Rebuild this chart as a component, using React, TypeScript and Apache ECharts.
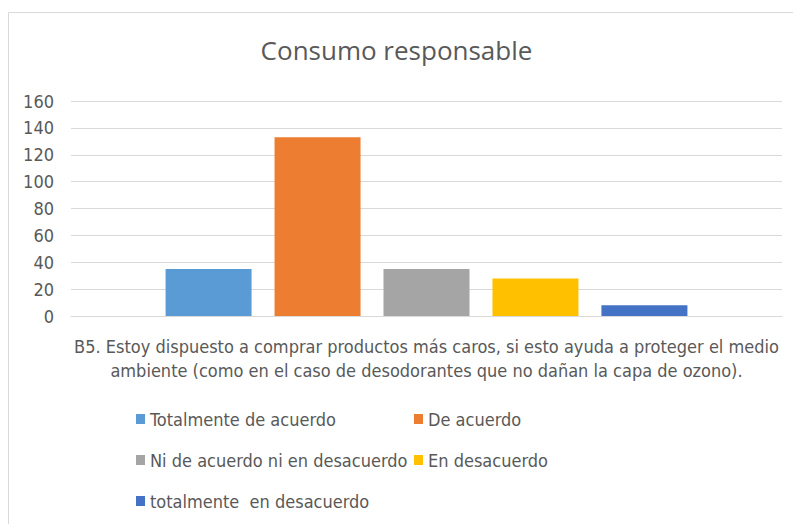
import React, { useEffect, useRef } from "react";
import * as echarts from "echarts";

const titleText = "Consumo responsable";
const categories = [
  "B5. Estoy dispuesto a comprar productos más caros, si esto ayuda a proteger el medio\nambiente (como en el caso de desodorantes que no dañan la capa de ozono).",
];
const seriesNames = [
  "Totalmente de acuerdo",
  "De acuerdo",
  "Ni de acuerdo ni en desacuerdo",
  "En desacuerdo",
  "totalmente  en desacuerdo",
];
const seriesValues = [35, 133, 35, 28, 8];
const seriesColors = ["#5B9BD5", "#ED7D31", "#A5A5A5", "#FFC000", "#4472C4"];
const yTicks = { min: 0, max: 160, interval: 20 };

const FONT = "'Liberation Sans Narrow', 'DejaVu Sans Condensed', 'Open Sans', sans-serif";
const TEXT = "#595959";
const GRID = "#D9D9D9";

// legend positions (left, top) per series
const legendPos = [
  [136, 409],
  [414, 409],
  [136, 450],
  [414, 450],
  [136, 491],
];

export default function App() {
  const ref = useRef<HTMLDivElement>(null);
  useEffect(() => {
    if (!ref.current) return;
    const chart = echarts.init(ref.current, null, { renderer: "svg" });
    chart.setOption({
      animation: false,
      backgroundColor: "#ffffff",
      title: {
        text: titleText,
        left: "center",
        top: 32,
        textStyle: {
          fontFamily: "'Open Sans', sans-serif",
          fontSize: 26,
          fontWeight: "normal",
          color: TEXT,
        },
      },
      graphic: [
        {
          type: "rect",
          shape: { x: 8.5, y: 12.5, width: 900, height: 700 },
          style: { fill: "none", stroke: GRID, lineWidth: 1 },
          silent: true,
        },
      ],
      legend: seriesNames.map((n, i) => ({
        data: [n],
        left: legendPos[i][0],
        top: legendPos[i][1],
        padding: 0,
        icon: "rect",
        itemWidth: 9,
        itemHeight: 10,
        selectedMode: false,
        textStyle: {
          fontFamily: FONT,
          fontSize: 18,
          lineHeight: 20,
          color: TEXT,
        },
      })),
      grid: { left: 71, right: 11, top: 101, bottom: 208 },
      xAxis: {
        type: "category",
        data: categories,
        axisLine: { show: true, lineStyle: { color: GRID, width: 1 } },
        axisTick: { show: false },
        axisLabel: {
          interval: 0,
          margin: 18,
          fontFamily: FONT,
          fontSize: 18,
          lineHeight: 24,
          color: TEXT,
          align: "center",
        },
      },
      yAxis: {
        type: "value",
        min: yTicks.min,
        max: yTicks.max,
        interval: yTicks.interval,
        axisLine: { show: false },
        axisTick: { show: false },
        splitLine: { lineStyle: { color: GRID, width: 1 } },
        axisLabel: {
          margin: 17,
          fontFamily: FONT,
          fontSize: 18,
          color: TEXT,
        },
      },
      series: seriesNames.map((n, i) => ({
        name: n,
        type: "bar",
        data: [seriesValues[i]],
        barWidth: 86,
        barGap: "26.7%",
        itemStyle: { color: seriesColors[i] },
      })),
    });
    return () => chart.dispose();
  }, []);
  return (
    <div
      ref={ref}
      style={{ position: "fixed", left: 0, top: 0, width: 793, height: 524 }}
    />
  );
}
